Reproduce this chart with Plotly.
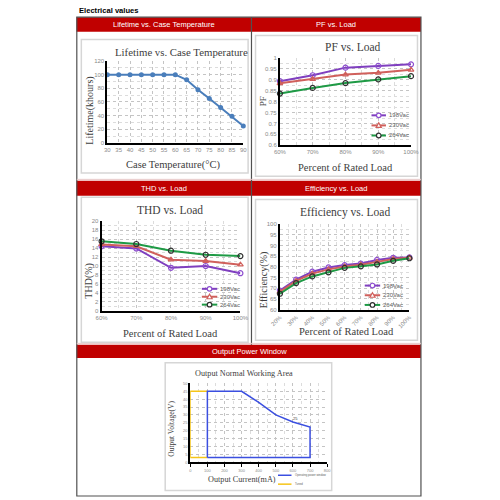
import plotly.graph_objects as go

W = H = 500
def px(x): return x / W
def py(y): return 1 - y / H

# ---------------- data ----------------
life_temp = [30, 35, 40, 45, 50, 55, 60, 65, 70, 75, 80, 85, 90]
life_khours = [100, 100, 100, 100, 100, 100, 100, 92.5, 78, 65, 52, 39, 25]

load_5 = [60, 70, 80, 90, 100]
load_5_labels = ["60%", "70%", "80%", "90%", "100%"]
pf_198 = [0.894, 0.921, 0.956, 0.964, 0.971]
pf_230 = [0.884, 0.903, 0.924, 0.932, 0.946]
pf_264 = [0.837, 0.863, 0.885, 0.902, 0.917]

thd_198 = [14.4, 13.9, 9.6, 10.0, 8.4]
thd_230 = [14.8, 14.4, 11.4, 11.1, 10.3]
thd_264 = [15.5, 14.9, 13.4, 12.5, 12.2]

eff_load = [20, 30, 40, 50, 60, 70, 80, 90, 100]
eff_labels = ["20%", "30%", "40%", "50%", "60%", "70%", "80%", "90%", "100%"]
eff_198 = [68.9, 74.0, 77.7, 79.7, 80.8, 81.5, 83.2, 84.2, 84.4]
eff_230 = [68.3, 73.4, 76.8, 78.8, 80.1, 81.0, 82.3, 83.6, 84.2]
eff_264 = [67.4, 72.4, 75.5, 77.4, 79.5, 80.2, 81.1, 82.8, 84.0]

opw_current = [100, 100, 300, 400, 500, 600, 700, 700, 100]
opw_voltage = [3, 45, 45, 38, 30, 25.5, 22.3, 3, 3]
tuned_current = [100, 0, 0, 100]
tuned_voltage = [45, 45, 3, 3]

series_names = ["198Vac", "230Vac", "264Vac"]
series_colors = ["#7f3fbf", "#d0605c", "#1e9a45"]
series_mcolors = ["#8e4fd0", "#d0605c", "#303030"]
series_symbols = ["circle-open", "triangle-up-open", "circle-open"]

# ---------------- styles ----------------
SERIF = "Liberation Serif"
SANS = "Liberation Sans"
GRID = "#c4c4c4"
TICKC = "#8a8a8a"

def ax(domain, rng, **kw):
    d = dict(domain=domain, range=rng, showgrid=True, gridcolor=GRID, griddash="dot",
             gridwidth=0.8, zeroline=False, showline=True, linecolor="black", linewidth=2,
             ticks="", tickfont=dict(family=SANS, size=6, color=TICKC), fixedrange=True)
    d.update(kw)
    return d

fig = go.Figure()

# Lifetime
fig.add_trace(go.Scatter(x=life_temp, y=life_khours, mode="lines+markers", xaxis="x", yaxis="y",
                         line=dict(color="#4a7ebb", width=2), marker=dict(size=5, color="#4a7ebb"),
                         cliponaxis=False, showlegend=False))

def add_series(xs, ys_list, xa, ya):
    for ys, c, mc, sym in zip(ys_list, series_colors, series_mcolors, series_symbols):
        fig.add_trace(go.Scatter(x=xs, y=ys, mode="lines+markers", xaxis=xa, yaxis=ya,
                                 line=dict(color=c, width=2),
                                 marker=dict(symbol=sym, size=5, color=mc, line=dict(width=1.2, color=mc)),
                                 cliponaxis=False, showlegend=False))

add_series(load_5, [pf_198, pf_230, pf_264], "x2", "y2")
add_series(load_5, [thd_198, thd_230, thd_264], "x3", "y3")
add_series(eff_load, [eff_198, eff_230, eff_264], "x4", "y4")

fig.add_trace(go.Scatter(x=tuned_current, y=tuned_voltage, mode="lines", xaxis="x5", yaxis="y5",
                         line=dict(color="#f5c518", width=1.5), cliponaxis=False, showlegend=False))
fig.add_trace(go.Scatter(x=opw_current, y=opw_voltage, mode="lines", xaxis="x5", yaxis="y5",
                         line=dict(color="#3b4fe0", width=1.5), cliponaxis=False, showlegend=False))

minor_grid = lambda dt: dict(showgrid=True, gridcolor="#dcdcdc", griddash="dot", dtick=dt)

layout = dict(
    width=W, height=H, margin=dict(l=0, r=0, t=0, b=0),
    paper_bgcolor="white", plot_bgcolor="white", showlegend=False,
    xaxis=ax([px(101), px(242)], [30, 90], dtick=5, anchor="y"),
    yaxis=ax([py(141.7), py(58.7)], [0, 120], dtick=20, anchor="x", minor=minor_grid(10)),
    xaxis2=ax([px(280), px(416)], [60, 100], tickvals=load_5, ticktext=load_5_labels, anchor="y2",
              minor=minor_grid(5)),
    yaxis2=ax([py(144), py(55.7)], [0.6, 1.0], dtick=0.05, anchor="x2", minor=minor_grid(0.025)),
    xaxis3=ax([px(95), px(239)], [60, 100], tickvals=load_5, ticktext=load_5_labels, anchor="y3",
              minor=minor_grid(5)),
    yaxis3=ax([py(311.7), py(220.7)], [0, 20], dtick=2, anchor="x3", minor=minor_grid(1)),
    xaxis4=ax([px(280), px(414.3)], [20, 100], tickvals=eff_load, ticktext=eff_labels, tickangle=-45,
              anchor="y4", minor=minor_grid(5)),
    yaxis4=ax([py(310.3), py(223.7)], [60, 100], dtick=5, anchor="x4", minor=minor_grid(2.5)),
    xaxis5=ax([px(187), px(329)], [0, 800], dtick=100, anchor="y5", ticks="outside", ticklen=3,
              tickcolor="black", tickfont=dict(family=SANS, size=4, color=TICKC), minor=minor_grid(50)),
    yaxis5=ax([py(464.7), py(385)], [0, 50], dtick=5, anchor="x5",
              tickfont=dict(family=SANS, size=4, color=TICKC)),
)

shapes = []
annotations = []

# frame and headers
RED = "#c00000"
for (y0, y1) in [(14.3, 29), (180, 195), (346, 359.3)]:
    shapes.append(dict(type="rect", xref="paper", yref="paper", x0=px(69), x1=px(426.3),
                       y0=py(y1), y1=py(y0), fillcolor=RED, line=dict(width=0), layer="below"))
shapes.append(dict(type="rect", xref="paper", yref="paper", x0=px(69.3), x1=px(426.3),
                   y0=py(499), y1=py(14.3), line=dict(color="#505050", width=1.2)))
shapes.append(dict(type="line", xref="paper", yref="paper", x0=px(250.5), x1=px(250.5),
                   y0=py(346), y1=py(14.3), line=dict(color="#505050", width=1.2)))
for y in [178.5, 344.5]:
    shapes.append(dict(type="line", xref="paper", yref="paper", x0=px(69.3), x1=px(426.3),
                       y0=py(y), y1=py(y), line=dict(color="#e8c8c8", width=1)))

# inner chart boxes
for (x0, x1, y0, y1) in [(74, 247, 37, 172), (254.7, 422.7, 33, 175.3), (74, 247, 196.7, 343.3),
                         (254.7, 422.7, 199, 341.3), (161, 333.7, 364, 493.3)]:
    shapes.append(dict(type="rect", xref="paper", yref="paper", x0=px(x0), x1=px(x1),
                       y0=py(y1), y1=py(y0), line=dict(color="#d6d6d6", width=1.5), layer="below"))

def text(x, y, s, size, family=SERIF, color="#404040", angle=0, xanchor="center", bold=False):
    annotations.append(dict(xref="paper", yref="paper", x=px(x), y=py(y), text=(f"<b>{s}</b>" if bold else s),
                            showarrow=False, xanchor=xanchor, yanchor="middle", textangle=angle,
                            font=dict(family=family, size=size, color=color)))

text(70, 7.5, "Electrical values", 7.6, family=SANS, color="black", xanchor="left", bold=True)
text(160, 21.7, "Lifetime vs. Case Temperature", 7.5, family=SANS, color="white")
text(338, 21.7, "PF vs. Load", 7.5, family=SANS, color="white")
text(160, 187.5, "THD vs. Load", 7.5, family=SANS, color="white")
text(338, 187.5, "Efficiency vs. Load", 7.5, family=SANS, color="white")
text(248, 352.5, "Output Power Window", 7.5, family=SANS, color="white")

# chart titles
text(178, 50, "Lifetime vs. Case Temperature", 10.8)
text(169, 163.5, "Case Temperature(°C)", 10.5)
text(83, 109, "Lifetime(khours)", 10, angle=-90)

text(356, 45, "PF vs. Load", 11.5)
text(348, 166.5, "Percent of Rated Load", 10.5)
text(262, 100, "PF", 9, angle=-90)

text(166, 210, "THD vs. Load", 11.5)
text(167, 335, "Percent of Rated Load", 10.5)
text(82, 281, "THD(%)", 10, angle=-90)

text(348, 212, "Efficiency vs. Load", 11.5)
text(349, 332.5, "Percent of Rated Load", 10.5)
text(263, 281, "Efficiency(%)", 10, angle=-90)

text(243, 375.5, "Output Normal Working Area", 8.2)
text(241, 482.5, "Output Current(mA)", 8.2)
text(168, 431, "Output Voltage(V)", 7.5, angle=-90)
annotations.append(dict(xref="x5", yref="y5", x=opw_current[5] + 15, y=opw_voltage[5], text="25",
                        showarrow=False, yshift=3, font=dict(family=SANS, size=4, color="#404040")))

# manual legends
def legend_block(x0, y0, dy, line_len, fsize):
    for i, (name, c, mc, sym) in enumerate(zip(series_names, series_colors, series_mcolors, series_symbols)):
        y = y0 + i * dy
        shapes.append(dict(type="line", xref="paper", yref="paper", x0=px(x0), x1=px(x0 + line_len),
                           y0=py(y), y1=py(y), line=dict(color=c, width=2)))
        xm = px(x0 + line_len / 2)
        if sym.startswith("circle"):
            shapes.append(dict(type="circle", xref="paper", yref="paper", xsizemode="pixel", ysizemode="pixel",
                               xanchor=xm, yanchor=py(y), x0=-2.3, x1=2.3, y0=-2.3, y1=2.3,
                               fillcolor="white", line=dict(color=mc, width=1.2)))
        else:
            shapes.append(dict(type="path", xref="paper", yref="paper", xsizemode="pixel", ysizemode="pixel",
                               xanchor=xm, yanchor=py(y), path="M -2.6,-2 L 2.6,-2 L 0,2.6 Z",
                               fillcolor="white", line=dict(color=mc, width=1.2)))
        text(x0 + line_len + 1, y, name, fsize, family=SANS, color="#606060", xanchor="left")

legend_block(375, 113.7, 10.2, 15, 6)
legend_block(199, 289.3, 8, 16, 6)
legend_block(368, 286, 9.8, 16, 6)

# output legend
for (y, c, name) in [(478, "#3b4fe0", "Operating power window"), (487, "#f5c518", "Tuned")]:
    shapes.append(dict(type="line", xref="paper", yref="paper", x0=px(278), x1=px(292),
                       y0=py(y), y1=py(y), line=dict(color=c, width=1.5)))
    text(294, y, name, 2.8, family=SANS, color="#606060", xanchor="left")

layout["shapes"] = shapes
layout["annotations"] = annotations
fig.update_layout(**layout)
fig.write_html("out.html", config={"displayModeBar": False},
               post_script="document.body.style.margin='0px';")
